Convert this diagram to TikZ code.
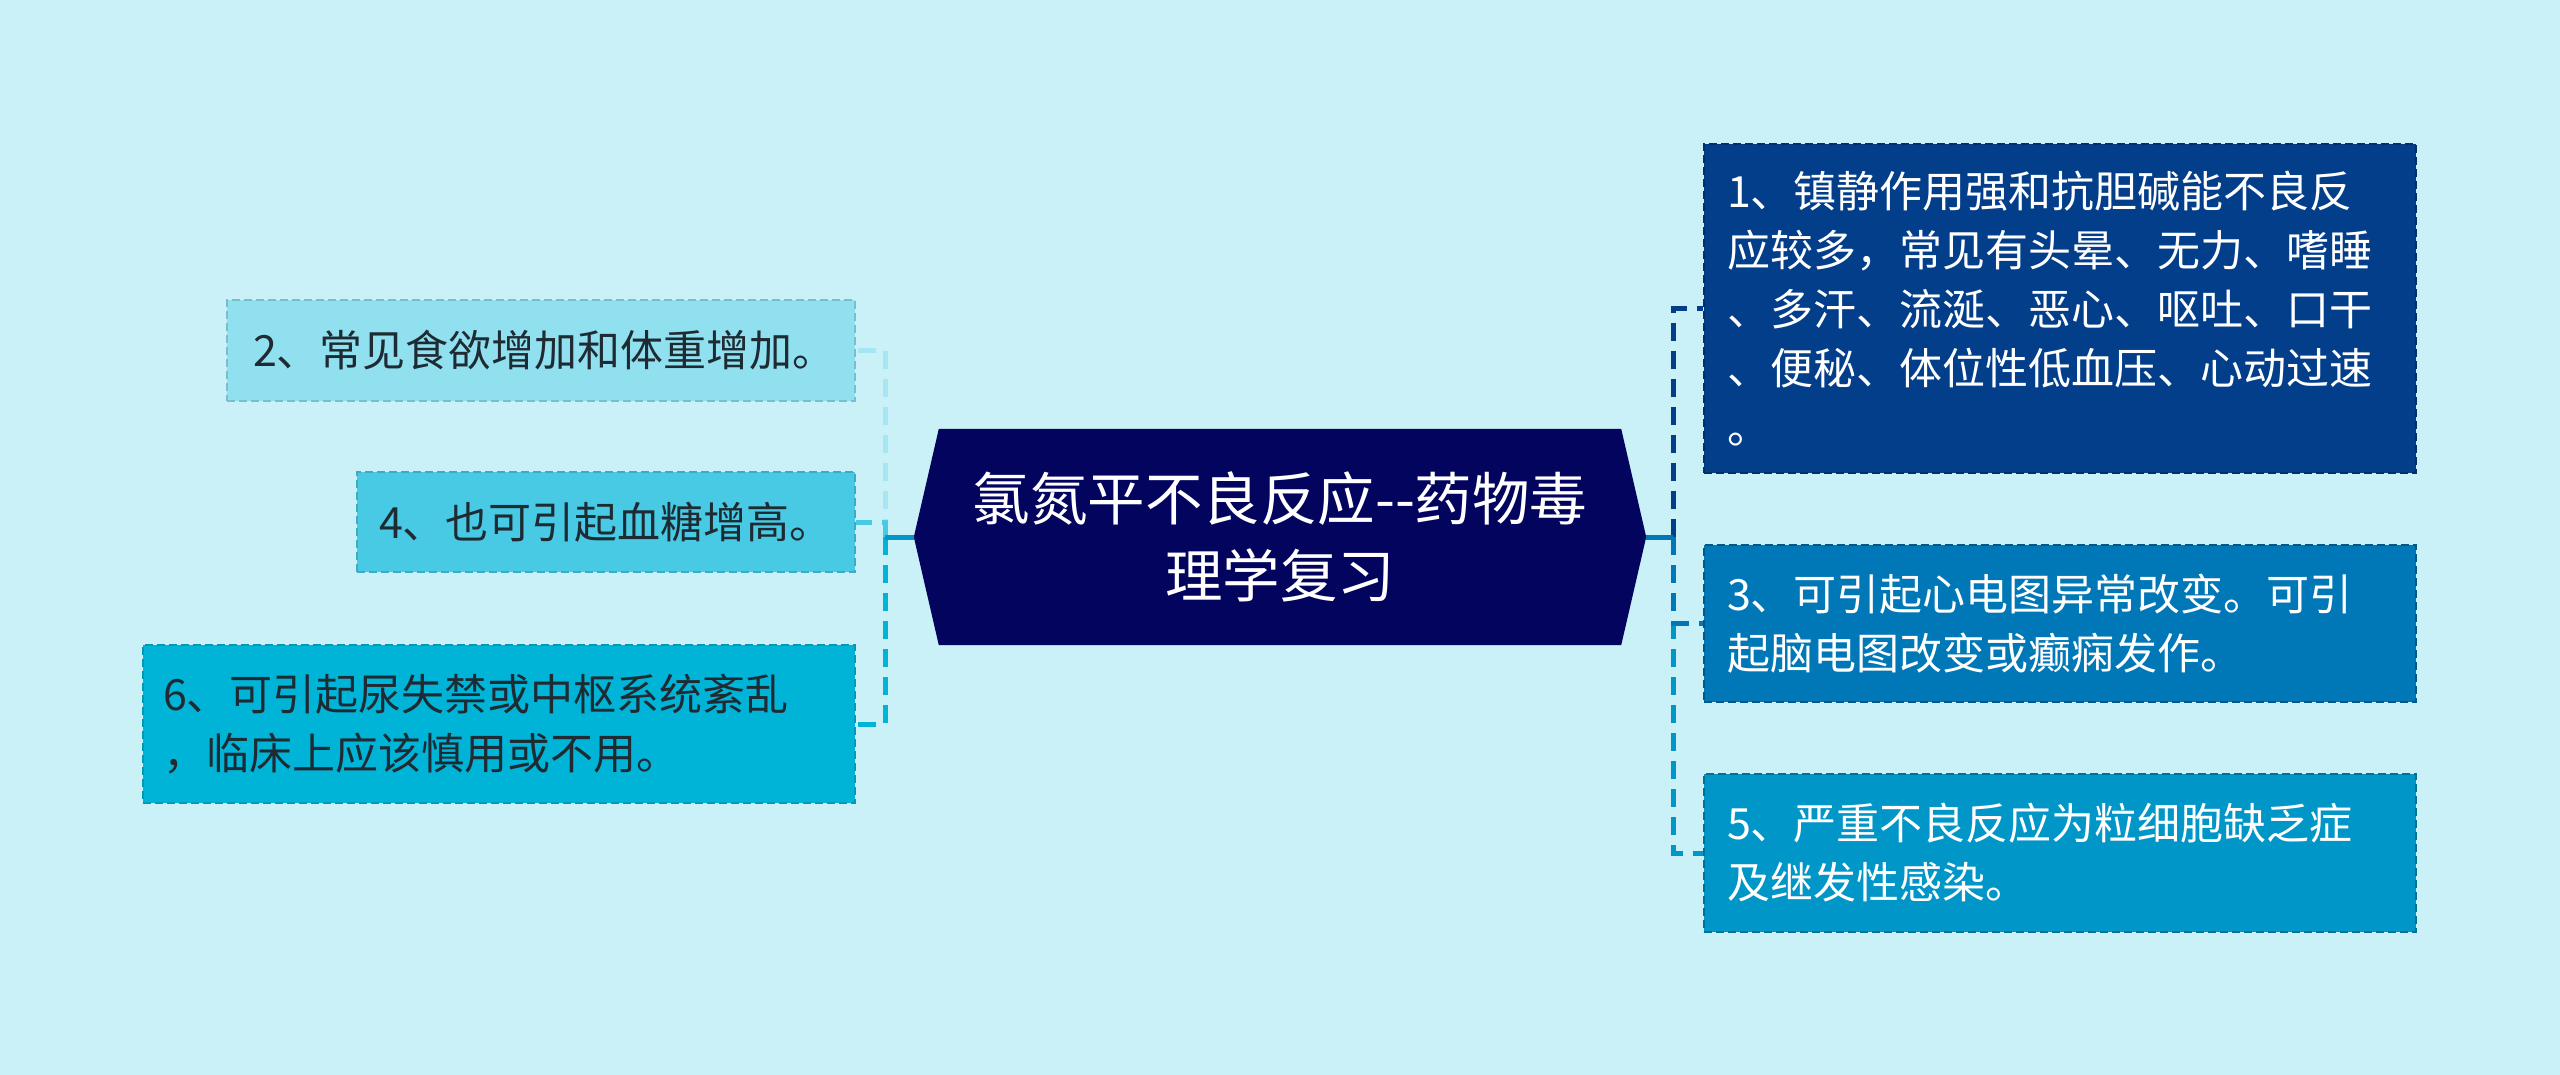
\documentclass[tikz,border=0pt]{standalone}
\usepackage{fontspec}
\newfontfamily\cjk{Noto Sans CJK SC}
\usetikzlibrary{calc}
\pgfdeclarelayer{background}
\pgfsetlayers{background,main}
\definecolor{bgc}{HTML}{CAF0F8}
\definecolor{cc}{HTML}{03045E}
\definecolor{ca}{HTML}{023E8A}
\definecolor{cb}{HTML}{0077B6}
\definecolor{cd}{HTML}{0096C7}
\definecolor{ce}{HTML}{00B4D8}
\definecolor{cf}{HTML}{48CAE4}
\definecolor{cg}{HTML}{90E0EF}
\definecolor{txtdark}{HTML}{1E2B33}
\tikzset{
  leaf/.style={rectangle, inner sep=0pt, align=left, font=\cjk\fontsize{43}{59}\selectfont, dash pattern=on 8pt off 4pt, line width=2pt},
  conn/.style={line width=5pt, dash pattern=on 18pt off 10pt},
  stub/.style={line width=5pt}
}
\begin{document}
\begin{tikzpicture}[x=1pt,y=-1pt]
\useasboundingbox (0,0) rectangle (2560,1075);

% central
\node[inner sep=0pt, minimum width=682pt, minimum height=216pt, align=center, text=white,
      font=\cjk\fontsize{57.5}{77}\selectfont] (c) at (1280,537) {氯氮平不良反应--药物毒\\理学复习};
\coordinate (cl) at ($(c.west)+(-25pt,0)$);
\coordinate (cr) at ($(c.east)+(25pt,0)$);

% right nodes
\node[leaf, fill=ca, draw=ca!75!black, text=white, minimum width=712pt, minimum height=329pt, text width=666pt] (n1) at (2060,308.5)
 {1、镇静作用强和抗胆碱能不良反\\应较多，常见有头晕、无力、嗜睡\\、多汗、流涎、恶心、呕吐、口干\\、便秘、体位性低血压、心动过速\\。};
\node[leaf, fill=cb, draw=cb!75!black, text=white, minimum width=712pt, minimum height=157pt, text width=666pt] (n3) at (2060,623.5)
 {3、可引起心电图异常改变。可引\\起脑电图改变或癫痫发作。};
\node[leaf, fill=cd, draw=cd!75!black, text=white, minimum width=712pt, minimum height=158pt, text width=666pt] (n5) at (2060,853)
 {5、严重不良反应为粒细胞缺乏症\\及继发性感染。};

% left nodes
\node[leaf, fill=cg, draw=cg!85!black, text=txtdark, minimum width=628pt, minimum height=101pt, text width=576pt] (n2) at (541,350.5)
 {2、常见食欲增加和体重增加。};
\node[leaf, fill=cf, draw=cf!85!black, text=txtdark, minimum width=498pt, minimum height=100pt, text width=454pt] (n4) at (606,522)
 {4、也可引起血糖增高。};
\node[leaf, fill=ce, draw=ce!85!black, text=txtdark, minimum width=712pt, minimum height=158pt, text width=672pt] (n6) at (499,724)
 {6、可引起尿失禁或中枢系统紊乱\\，临床上应该慎用或不用。};

% connectors
\coordinate (jl) at (885,537);
\coordinate (jr) at (1673,537);
\begin{pgfonlayer}{background}
\fill[bgc] (0,0) rectangle (2560,1075);
\fill[cc] (c.north west) -- (c.north east) -- (cr) -- (c.south east) -- (c.south west) -- (cl) -- cycle;
\draw[conn, cg!80!white] (jl) |- (n2.east);
\draw[conn, ce] (jl) |- (n6.east);
\draw[conn, cf] (jl) |- (n4.east);
\draw[stub, cd] (cl) -- (jl);
\draw[conn, cd] (jr) |- (n5.west);
\draw[conn, cb] (jr) |- (n3.west);
\draw[conn, ca] (jr) |- (n1.west);
\draw[stub, cb] (cr) -- (jr);
\end{pgfonlayer}
\end{tikzpicture}
\end{document}
